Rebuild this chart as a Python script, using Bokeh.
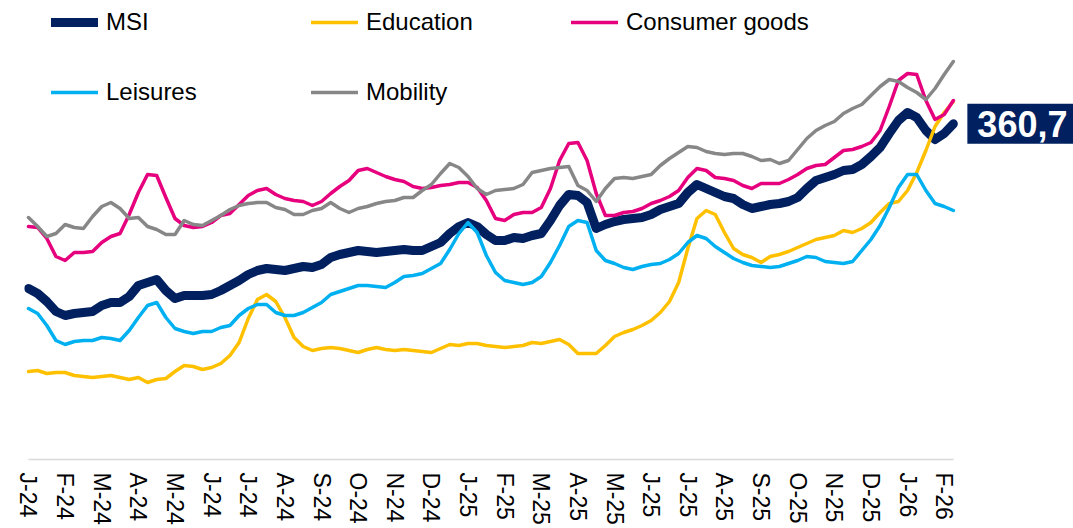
import numpy as np
from bokeh.plotting import figure
from bokeh.models import (Range1d, FixedTicker, Legend, LegendItem, Label)
from bokeh.embed import file_html
from bokeh.resources import INLINE

# ---------------- data ----------------
month_labels = ["J-24", "F-24", "M-24", "A-24", "M-24", "J-24", "J-24", "A-24", "S-24", "O-24",
                "N-24", "D-24", "J-25", "F-25", "M-25", "A-25", "M-25", "J-25", "J-25", "A-25",
                "S-25", "O-25", "N-25", "D-25", "J-26", "F-26"]

# weekly-ish observations, position in months since Jan 2024
x = np.arange(102) * 0.25

msi = [196, 191, 183, 173, 169, 171, 172, 173, 179, 182,
       182, 188, 199, 202, 205, 194, 186, 189, 189, 189,
       190, 194, 199, 204, 210, 214, 216, 215, 214, 216,
       218, 217, 220, 227, 230, 232, 234, 233, 232, 233,
       234, 235, 234, 234, 238, 242, 251, 258, 262, 258,
       250, 244, 244, 247, 246, 249, 251, 264, 279, 290,
       289, 282, 256, 260, 263, 265, 266, 267, 270, 275,
       278, 281, 292, 300, 296, 292, 288, 286, 280, 276,
       278, 280, 281, 283, 287, 296, 304, 307, 310, 314,
       315, 320, 328, 337, 351, 364, 372, 367, 354, 345,
       351, 360.7]

education = [113, 114, 111, 112, 112, 109, 108, 107, 108, 109,
             107, 105, 107, 102, 105, 106, 113, 119, 118, 115,
             117, 121, 129, 142, 166, 185, 190, 183, 167, 147,
             138, 134, 136, 137, 136, 134, 132, 135, 137, 135,
             134, 135, 134, 133, 132, 136, 140, 139, 141, 141,
             139, 138, 137, 138, 139, 142, 141, 143, 145, 140,
             131, 131, 131, 139, 148, 152, 155, 159, 164, 172,
             183, 202, 236, 266, 274, 270, 252, 236, 230, 227,
             222, 228, 230, 233, 237, 241, 245, 247, 249, 254,
             252, 256, 262, 272, 281, 283, 294, 312, 334, 358,
             372, 383]

consumer_goods = [258, 257, 246, 228, 224, 232, 232, 233, 242, 248,
                  251, 270, 292, 310, 309, 287, 266, 259, 257, 258,
                  262, 269, 271, 280, 289, 294, 296, 290, 286, 284,
                  283, 279, 283, 291, 298, 304, 314, 316, 312, 308,
                  305, 303, 298, 296, 297, 299, 300, 302, 302, 297,
                  284, 266, 264, 270, 272, 272, 277, 296, 324, 341,
                  342, 324, 291, 269, 269, 272, 273, 276, 281, 284,
                  288, 294, 307, 316, 314, 307, 306, 304, 299, 296,
                  301, 301, 301, 305, 310, 316, 319, 320, 327, 334,
                  335, 338, 342, 354, 378, 404, 411, 410, 384, 365,
                  370, 384]

leisures = [176, 171, 159, 144, 140, 143, 144, 144, 147, 146,
            144, 154, 167, 179, 182, 167, 156, 153, 151, 153,
            153, 157, 159, 169, 176, 180, 180, 172, 169, 169,
            172, 177, 182, 190, 193, 196, 199, 199, 198, 197,
            202, 208, 209, 211, 216, 221, 235, 251, 262, 252,
            229, 212, 204, 202, 200, 202, 208, 222, 239, 258,
            264, 262, 234, 224, 221, 217, 215, 218, 220, 221,
            225, 231, 242, 249, 246, 238, 232, 226, 222, 219,
            218, 217, 218, 221, 224, 228, 227, 223, 222, 221,
            223, 234, 245, 259, 277, 297, 310, 310, 294, 281,
            278, 274]

mobility = [267, 258, 248, 251, 260, 257, 256, 268, 278, 282,
            276, 266, 267, 258, 255, 250, 250, 264, 260, 259,
            264, 269, 275, 279, 281, 282, 282, 277, 275, 270,
            270, 274, 276, 282, 276, 272, 276, 278, 281, 283,
            284, 287, 287, 294, 300, 311, 321, 317, 308, 296,
            290, 294, 295, 296, 300, 312, 314, 316, 317, 318,
            299, 294, 283, 296, 306, 307, 306, 308, 310, 319,
            326, 332, 338, 337, 333, 331, 330, 331, 331, 328,
            324, 325, 321, 324, 335, 346, 354, 359, 363, 371,
            376, 380, 389, 398, 405, 403, 397, 392, 385, 396,
            410, 423]

series_names = ["MSI", "Education", "Consumer goods", "Leisures", "Mobility"]
series_values = [msi, education, consumer_goods, leisures, mobility]
series_colors = ["#002060", "#FFC000", "#E6007E", "#00B0F0", "#878787"]
series_widths = [9, 3.5, 3.5, 3.5, 3.5]

FONT = "Liberation Sans"

# ---------------- figure ----------------
X0, X1 = -0.109, 28.53
p = figure(width=1073, height=528, output_backend="svg", toolbar_location=None,
           x_range=Range1d(X0, X1), y_range=Range1d(25, 484),
           min_border_left=24, min_border_right=0, min_border_top=0,
           min_border_bottom=69, y_axis_location=None)
p.outline_line_color = None
p.background_fill_color = "white"
p.border_fill_color = "white"
p.xgrid.visible = False
p.ygrid.visible = False

renderers = []
for name, vals, col, w in zip(series_names, series_values, series_colors, series_widths):
    r = p.line(x, vals, line_color=col, line_width=w, line_cap="round", line_join="round")
    renderers.append(r)

ax = p.xaxis[0]
ax.ticker = FixedTicker(ticks=list(range(len(month_labels))))
ax.major_label_overrides = {i: lab for i, lab in enumerate(month_labels)}
ax.major_label_orientation = "vertical"
ax.major_label_text_font = FONT
ax.major_label_text_font_size = "23px"
ax.major_label_text_color = "#000000"
ax.major_label_standoff = 13
ax.major_tick_line_color = None
ax.major_tick_out = 0
ax.major_tick_in = 0
ax.minor_tick_line_color = None
ax.minor_tick_out = 0
ax.axis_line_color = "#D9D9D9"
ax.axis_line_width = 1.5
ax.bounds = (float(x[0]), float(x[-1]))

legend = Legend(items=[LegendItem(label=n, renderers=[r]) for n, r in zip(series_names, renderers)],
                orientation="horizontal", ncols=3, location=(27, 352))
legend.background_fill_alpha = 0
legend.border_line_color = None
legend.padding = 0
legend.margin = 0
legend.spacing = 40
legend.glyph_width = 47
legend.glyph_height = 30
legend.label_height = 30
legend.label_width = 165
legend.label_standoff = 8
legend.label_text_font = FONT
legend.label_text_font_size = "24px"
legend.label_text_color = "#000000"
legend.label_text_baseline = "middle"
p.add_layout(legend, "center")

last_text = f"{msi[-1]:.1f}".replace(".", ",")
lab = Label(x=x[-1], y=msi[-1], text=last_text, x_offset=14, text_align="left",
            text_baseline="middle", text_font=FONT, text_font_size="36px",
            text_font_style="bold", text_color="white",
            background_fill_color="#002060",
            padding=dict(left=10, right=10, top=7, bottom=7))
p.add_layout(lab)

open("out.html", "w").write(file_html(p, INLINE))
